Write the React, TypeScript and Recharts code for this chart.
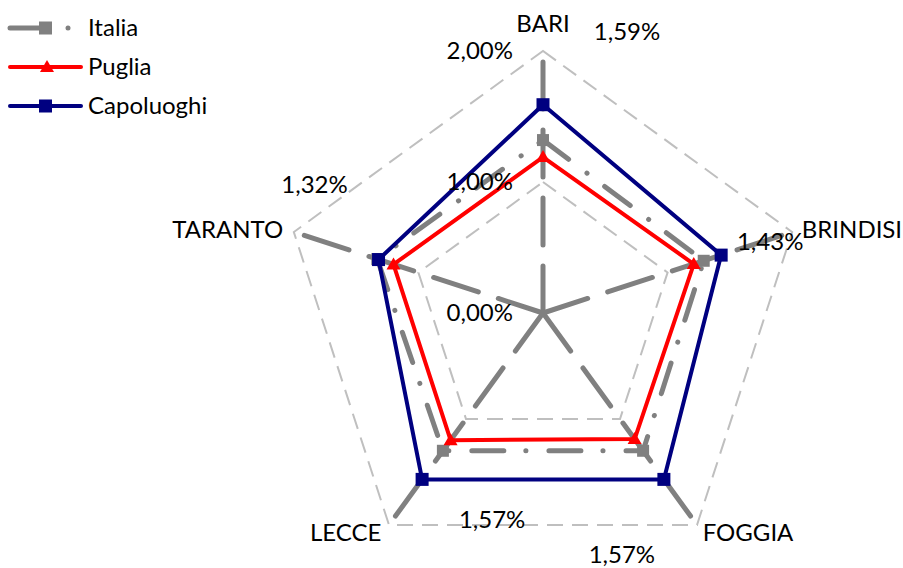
import React from 'react';
import { RadarChart, Radar, PolarGrid, PolarAngleAxis, PolarRadiusAxis, Legend } from 'recharts';

const cities = ['BARI', 'BRINDISI', 'FOGGIA', 'LECCE', 'TARANTO'];
const italia = [1.32, 1.29, 1.3, 1.3, 1.33];
const puglia = [1.19, 1.21, 1.19, 1.2, 1.2];
const capoluoghi = [1.59, 1.43, 1.57, 1.57, 1.32];
const radiusTicks = [0, 1, 2];
const seriesNames = ['Italia', 'Puglia', 'Capoluoghi'];

const data = cities.map((city, i) => ({
  city,
  italia: italia[i],
  puglia: puglia[i],
  capoluoghi: capoluoghi[i],
}));

const FONT = 'Lato, "Liberation Sans", sans-serif';
const FS = 24;
const GRAY = '#808080';
const RED = '#FF0000';
const NAVY = '#000080';

const fmt = (v: number) => v.toFixed(2).replace('.', ',') + '%';

// label offsets relative to the Capoluoghi point (x centre, baseline)
const labelOffsets: [number, number][] = [
  [84, -65],
  [49, -5],
  [-42, 84],
  [70, 49],
  [-64, -67],
];
// angle label offsets relative to tick anchor
const angleOffsets: [number, number, string][] = [
  [0, -11, 'middle'],
  [2, 8, 'start'],
  [1, 10, 'start'],
  [-3, 10, 'end'],
  [-3, 8, 'end'],
];

const AngleTick = (props: any) => {
  const { x, y, payload } = props;
  const i = cities.indexOf(payload.value);
  const [dx, dy, anchor] = angleOffsets[i] || [0, 0, 'middle'];
  return (
    <text x={x + dx} y={y + dy} textAnchor={anchor} fontFamily={FONT} fontSize={FS} fill="#000">
      {payload.value}
    </text>
  );
};

const RadiusTick = (props: any) => {
  const { x, y, payload } = props;
  return (
    <text x={x - 30} y={y + 8} textAnchor="end" fontFamily={FONT} fontSize={FS} fill="#000">
      {fmt(Number(payload.value))}
    </text>
  );
};

const italiaDot = (props: any) => {
  const { cx, cy, index } = props;
  return <rect key={`it${index}`} x={cx - 6} y={cy - 6} width={12} height={12} fill={GRAY} />;
};

const pugliaDot = (props: any) => {
  const { cx, cy, index } = props;
  return (
    <polygon
      key={`pu${index}`}
      points={`${cx},${cy - 7} ${cx - 7},${cy + 5} ${cx + 7},${cy + 5}`}
      fill={RED}
    />
  );
};

const capDot = (props: any) => {
  const { cx, cy, index } = props;
  const [ox, oy] = labelOffsets[index];
  return (
    <g key={`ca${index}`}>
      <rect x={cx - 6.5} y={cy - 6.5} width={13} height={13} fill={NAVY} />
      <text x={cx + ox} y={cy + oy} textAnchor="middle" fontFamily={FONT} fontSize={FS} fill="#000">
        {fmt(capoluoghi[index])}
      </text>
    </g>
  );
};

const renderLegend = () => {
  const rows = [28, 67, 106];
  return (
    <svg width={230} height={130} style={{ display: 'block' }}>
      {/* Italia */}
      <line x1={10} y1={rows[0]} x2={42} y2={rows[0]} stroke={GRAY} strokeWidth={5} strokeLinecap="round" />
      <rect x={39} y={rows[0] - 6.5} width={13} height={13} fill={GRAY} />
      <circle cx={68} cy={rows[0]} r={2.5} fill={GRAY} />
      {/* Puglia */}
      <line x1={10} y1={rows[1]} x2={81} y2={rows[1]} stroke={RED} strokeWidth={4} strokeLinecap="round" />
      <polygon points={`47,${rows[1] - 7} 40,${rows[1] + 5} 54,${rows[1] + 5}`} fill={RED} />
      {/* Capoluoghi */}
      <line x1={10} y1={rows[2]} x2={81} y2={rows[2]} stroke={NAVY} strokeWidth={4} strokeLinecap="round" />
      <rect x={39} y={rows[2] - 6.5} width={13} height={13} fill={NAVY} />
      {seriesNames.map((n, i) => (
        <text key={n} x={88} y={rows[i] + 8} fontFamily={FONT} fontSize={FS} fill="#000">
          {n}
        </text>
      ))}
    </svg>
  );
};

export default function App() {
  return (
    <div style={{ position: 'absolute', left: 0, top: 0, width: 903, height: 568, background: '#fff' }}>
      <RadarChart
        width={903}
        height={568}
        data={data}
        cx={543}
        cy={313}
        outerRadius={262}
        margin={{ top: 0, right: 0, bottom: 0, left: 0 }}
      >
        <PolarGrid
          gridType="polygon"
          radialLines={false}
          stroke="#BFBFBF"
          strokeWidth={2}
          strokeDasharray="16 9"
        />
        <PolarGrid
          gridType="polygon"
          radialLines={true}
          polarRadius={[]}
          stroke={GRAY}
          strokeWidth={5}
          strokeLinecap="round"
          strokeDasharray="47 21"
        />
        <PolarAngleAxis dataKey="city" tick={<AngleTick />} tickLine={false} axisLine={false} />
        <PolarRadiusAxis
          angle={90}
          domain={[0, 2]}
          ticks={radiusTicks as any}
          tickCount={3}
          axisLine={false}
          tick={<RadiusTick />}
        />
        <Radar
          name="Italia"
          dataKey="italia"
          stroke={GRAY}
          strokeWidth={5}
          strokeDasharray="32 23 0.1 22"
          strokeLinecap="round"
          strokeLinejoin="round"
          fill="none"
          fillOpacity={0}
          dot={italiaDot}
          isAnimationActive={false}
        />
        <Radar
          name="Puglia"
          dataKey="puglia"
          stroke={RED}
          strokeWidth={4}
          strokeLinejoin="round"
          fill="none"
          fillOpacity={0}
          dot={pugliaDot}
          isAnimationActive={false}
        />
        <Radar
          name="Capoluoghi"
          dataKey="capoluoghi"
          stroke={NAVY}
          strokeWidth={4}
          strokeLinejoin="round"
          fill="none"
          fillOpacity={0}
          dot={capDot}
          isAnimationActive={false}
        />
        <Legend
          content={renderLegend}
          wrapperStyle={{ position: 'absolute', left: 0, top: 0, width: 230, height: 130 }}
        />
      </RadarChart>
    </div>
  );
}
